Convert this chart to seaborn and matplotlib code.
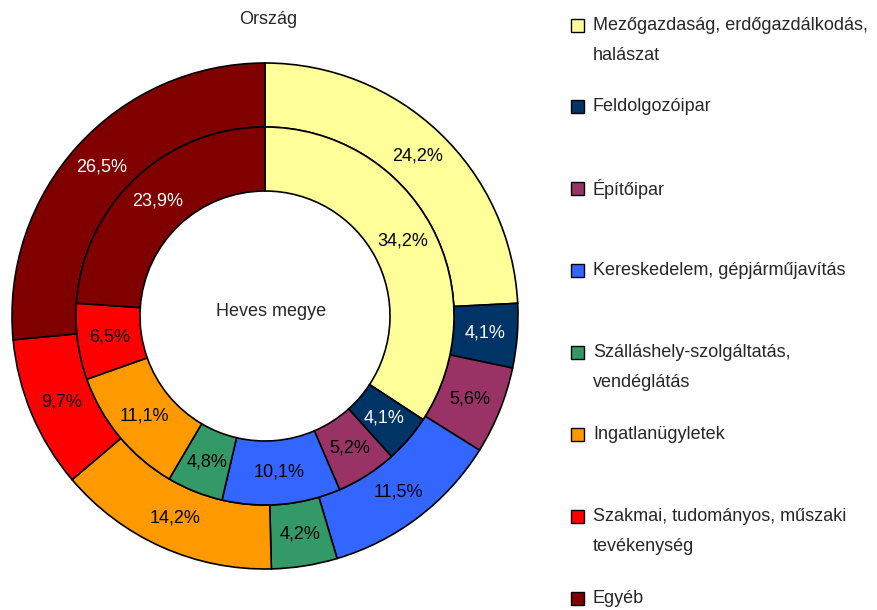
import seaborn as sns
import matplotlib.pyplot as plt
from matplotlib.patches import Rectangle

# Adatok (kívül: Ország, belül: Heves megye)
categories = ['Mezőgazdaság, erdőgazdálkodás,\nhalászat', 'Feldolgozóipar', 'Építőipar',
              'Kereskedelem, gépjárműjavítás', 'Szálláshely-szolgáltatás,\nvendéglátás',
              'Ingatlanügyletek', 'Szakmai, tudományos, műszaki\ntevékenység', 'Egyéb']
orszag = [24.2, 4.1, 5.6, 11.5, 4.2, 14.2, 9.7, 26.5]
heves = [34.2, 4.1, 5.2, 10.1, 4.8, 11.1, 6.5, 23.9]
colors = ['#FFFF99', '#003366', '#993366', '#3366FF', '#339966', '#FF9900', '#FF0000', '#800000']
label_colors = ['black', 'white', 'black', 'black', 'black', 'black', 'black', 'white']

sns.set_theme(style='white')
plt.rcParams['font.family'] = ['Liberation Sans', 'DejaVu Sans']

W, H = 877, 610
fig = plt.figure(figsize=(W / 100, H / 100), dpi=100)

# donut középpont és sugár pixelben
cx, cy, R = 265, 316, 253
ax = fig.add_axes([(cx - R) / W, (H - cy - R) / H, 2 * R / W, 2 * R / H])

ring = 64 / R
fs = 13

def fmt(v):
    return f'{v:.1f}%'.replace('.', ',')

for vals, radius in [(orszag, 1.0), (heves, 1.0 - ring)]:
    wedges, texts = ax.pie(vals, radius=radius, startangle=90, counterclock=False,
                           colors=colors, labels=[fmt(v) for v in vals],
                           labeldistance=(radius - ring / 2) / radius,
                           wedgeprops=dict(width=ring, edgecolor='black', linewidth=1.2))
    for t, c in zip(texts, label_colors):
        t.set_color(c)
        t.set_fontsize(fs)
        t.set_ha('center')
        t.set_va('center')

ax.set_xlim(-1, 1)
ax.set_ylim(-1, 1)
ax.set_aspect('equal')
ax.axis('off')

fig.text(268 / W, 1 - 20 / H, 'Ország', ha='center', va='center', fontsize=fs)
fig.text(271 / W, 1 - 312 / H, 'Heves megye', ha='center', va='center', fontsize=fs)

# jelmagyarázat
sq = 13
for i, (lab, col) in enumerate(zip(categories, colors)):
    y0 = 25 + i * 81.9
    fig.add_artist(Rectangle((571 / W, 1 - (y0 + sq / 2) / H), sq / W, sq / H,
                             transform=fig.transFigure, facecolor=col,
                             edgecolor='black', linewidth=1.0))
    for j, line in enumerate(lab.split('\n')):
        fig.text(593 / W, 1 - (y0 + j * 30) / H, line, ha='left', va='center', fontsize=fs)

fig.savefig('out.png', dpi=100)
